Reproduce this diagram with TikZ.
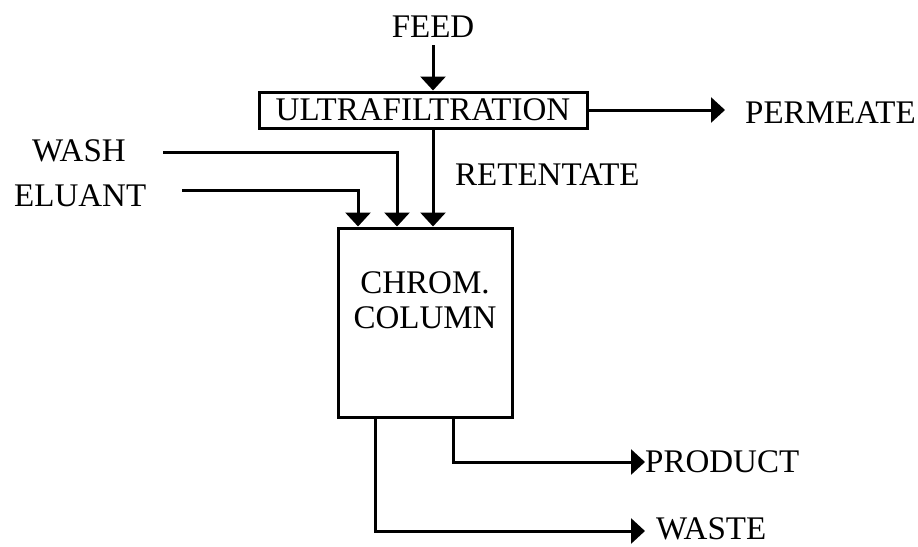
\documentclass[tikz,border=0pt]{standalone}
\usepackage{fontspec}
\setmainfont{Liberation Serif}
\usetikzlibrary{arrows.meta}
\begin{document}
\begin{tikzpicture}[x=1pt,y=-1pt,
  lbl/.style={font=\fontsize{33}{35}\selectfont, inner sep=0pt},
  unit/.style={draw, line width=3pt, inner sep=0pt},
  flow/.style={line width=3pt, -{Triangle[length=14pt,width=25pt]}}]
  \useasboundingbox (0,0) rectangle (918,546);

  % process units
  \node[lbl] (feed) at (433,27) {FEED};
  \node[unit, lbl, draw, line width=3pt, minimum width=328pt, minimum height=36pt] (uf) at (423,110) {ULTRAFILTRATION};
  \node[unit, minimum width=174pt, minimum height=189pt] (col) at (425,322.5) {};
  \node[lbl, align=center] (colname) at (425,300) {CHROM.\\COLUMN};

  % stream labels
  \node[lbl, anchor=west] (perm) at (745,113) {PERMEATE};
  \node[lbl, anchor=west] (ret) at (455,175) {RETENTATE};
  \node[lbl, anchor=west] (wash) at (32,151) {WASH};
  \node[lbl, anchor=west] (elu) at (14,196) {ELUANT};
  \node[lbl, anchor=west] (prod) at (645,462) {PRODUCT};
  \node[lbl, anchor=west] (waste) at (656,529) {WASTE};

  % free ends of the inlet lines
  \coordinate (w0) at (163,152);
  \coordinate (e0) at (182,190);

  % feed and ultrafiltration
  \draw[flow] ([yshift=-7pt]feed.south) -- (uf.north -| feed);
  \draw[flow] (uf.east) -- ([xshift=-20pt]perm.west |- uf.east);
  \draw[flow] (uf.south -| feed) -- (col.north -| feed);

  % column inlets
  \draw[flow] (w0) -| ([xshift=-28pt]col.north);
  \draw[flow] (e0) -| ([xshift=-67pt]col.north);

  % column outlets
  \draw[flow] ([xshift=28pt]col.south) |- (prod.west);
  \draw[flow] ([xshift=-50pt]col.south) |- ([yshift=-2pt, xshift=-11pt]waste.west);
\end{tikzpicture}
\end{document}
